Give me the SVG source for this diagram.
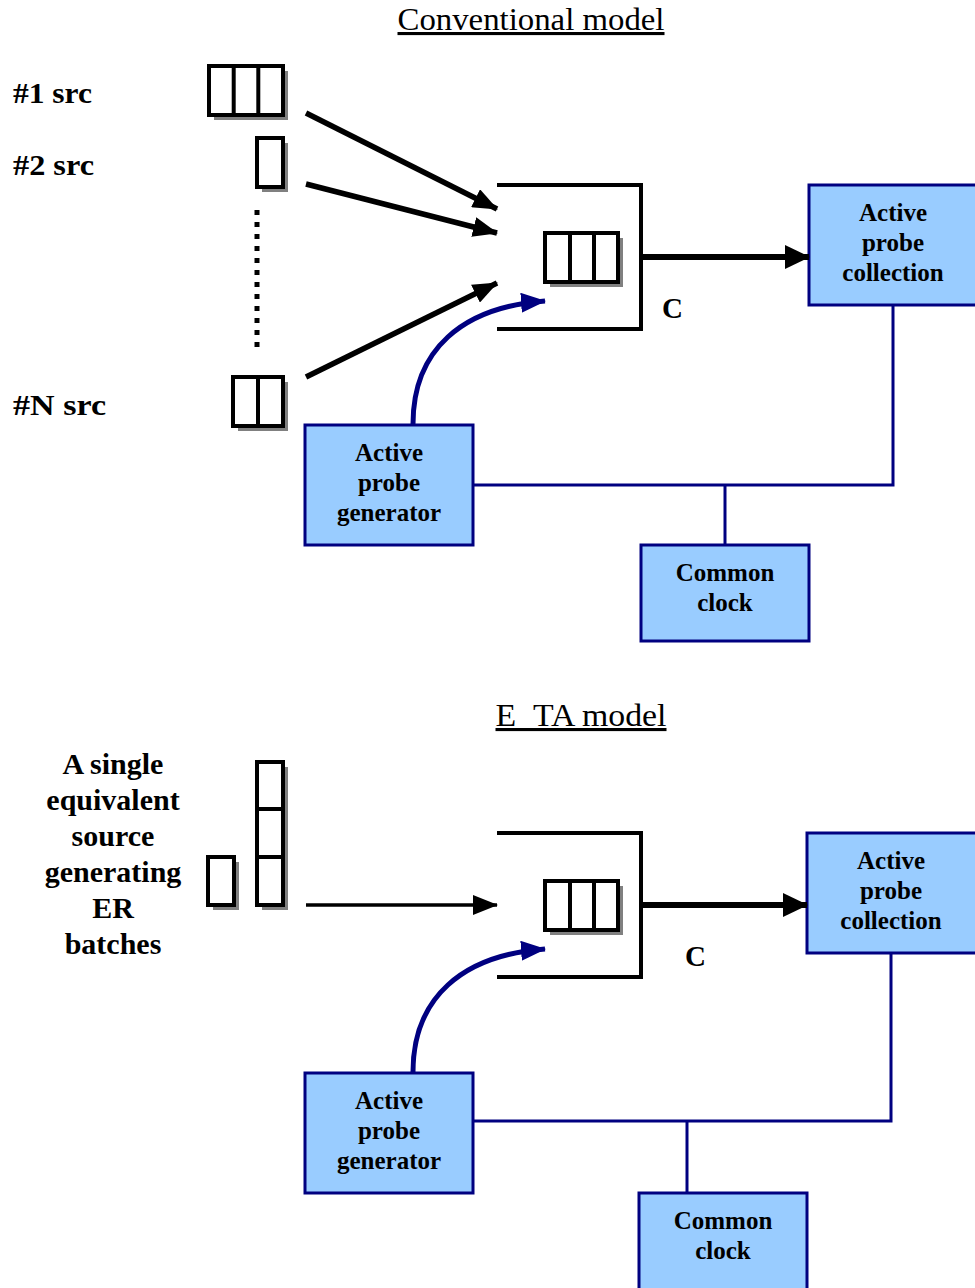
<svg xmlns="http://www.w3.org/2000/svg" width="975" height="1288" viewBox="0 0 975 1288">
  <style>
    .title { font-family: "Liberation Serif", "Times New Roman", serif; font-size: 31px; text-decoration: underline; fill: #000; }
    .lbl { font-family: "Liberation Serif", "Times New Roman", serif; font-weight: bold; font-size: 29px; fill: #000; }
    .box text, .src text { font-family: "Liberation Serif", "Times New Roman", serif; font-weight: bold; font-size: 25px; fill: #000; text-anchor: middle; }
    .src text { font-size: 30px; }
    .box rect { fill: #99ccff; stroke: #000080; stroke-width: 3; }
    .cell { fill: #fff; stroke: #000; stroke-width: 4; }
    .shadow { fill: #808080; }
    .div { stroke: #000; stroke-width: 4; }
    .server { fill: none; stroke: #000; stroke-width: 4; }
    .arrow { stroke: #000; stroke-width: 5.5; fill: none; marker-end: url(#blk); }
    .thick { stroke: #000; stroke-width: 6; fill: none; marker-end: url(#blkL); }
    .thin { stroke: #000; stroke-width: 3.5; fill: none; marker-end: url(#blk); }
    .wire { stroke: #000080; stroke-width: 3; fill: none; }
    .curve { stroke: #000080; stroke-width: 5; fill: none; marker-end: url(#blu); }
    .dots { stroke: #000; stroke-width: 5; stroke-dasharray: 5 7; }
  </style>
  <defs>
    <marker id="blk" markerUnits="userSpaceOnUse" markerWidth="26" markerHeight="20" refX="24" refY="10" orient="auto">
      <path d="M0,0 L25,10 L0,20 Z" fill="#000"/>
    </marker>
    <marker id="blkL" markerUnits="userSpaceOnUse" markerWidth="26" markerHeight="24" refX="24" refY="12" orient="auto">
      <path d="M0,0 L25,12 L0,24 Z" fill="#000"/>
    </marker>
    <marker id="blu" markerUnits="userSpaceOnUse" markerWidth="26" markerHeight="20" refX="24" refY="10" orient="auto">
      <path d="M0,0 L25,10 L0,20 Z" fill="#000080"/>
    </marker>
  </defs>

  <!-- ===== Conventional model ===== -->
  <text class="title" x="531" y="30" text-anchor="middle" textLength="267" lengthAdjust="spacingAndGlyphs">Conventional model</text>

  <text class="lbl" x="13" y="103" textLength="79" lengthAdjust="spacingAndGlyphs">#1 src</text>
  <text class="lbl" x="13" y="175" textLength="81" lengthAdjust="spacingAndGlyphs">#2 src</text>
  <text class="lbl" x="13" y="415" textLength="93" lengthAdjust="spacingAndGlyphs">#N src</text>

  <!-- source queues -->
  <g id="src1-queue">
    <rect class="shadow" x="214" y="71" width="74" height="49"/>
    <rect class="cell" x="209" y="66" width="74" height="49"/>
    <line class="div" x1="233.7" y1="66" x2="233.7" y2="115"/>
    <line class="div" x1="258.3" y1="66" x2="258.3" y2="115"/>
  </g>
  <g id="src2-queue">
    <rect class="shadow" x="262" y="143" width="26" height="49"/>
    <rect class="cell" x="257" y="138" width="26" height="49"/>
  </g>
  <line class="dots" x1="257" y1="210" x2="257" y2="348"/>
  <g id="srcN-queue">
    <rect class="shadow" x="238" y="382" width="50" height="49"/>
    <rect class="cell" x="233" y="377" width="50" height="49"/>
    <line class="div" x1="258" y1="377" x2="258" y2="426"/>
  </g>

  <!-- server -->
  <g id="server-top">
    <path class="server" d="M497,185 H641 V329 H497"/>
    <rect class="shadow" x="550" y="238" width="73" height="49"/>
    <rect class="cell" x="545" y="233" width="73" height="49"/>
    <line class="div" x1="570" y1="233" x2="570" y2="282"/>
    <line class="div" x1="594" y1="233" x2="594" y2="282"/>
  </g>
  <text class="lbl" x="662" y="318">C</text>

  <g id="collection-top" class="box">
    <rect x="809" y="185" width="180" height="120"/>
    <text x="893" y="221">Active</text>
    <text x="893" y="251">probe</text>
    <text x="893" y="281">collection</text>
  </g>
  <g id="generator-top" class="box">
    <rect x="305" y="425" width="168" height="120"/>
    <text x="389" y="461">Active</text>
    <text x="389" y="491">probe</text>
    <text x="389" y="521">generator</text>
  </g>
  <g id="clock-top" class="box">
    <rect x="641" y="545" width="168" height="96"/>
    <text x="725" y="581">Common</text>
    <text x="725" y="611">clock</text>
  </g>

  <g id="connectors-top">
    <line class="arrow" x1="306" y1="113" x2="497" y2="209"/>
    <line class="arrow" x1="306" y1="184" x2="497" y2="233"/>
    <line class="arrow" x1="306" y1="377" x2="497" y2="283"/>
    <line class="thick" x1="643" y1="257" x2="809" y2="257"/>
    <path class="curve" d="M413,424 C413,350 462,307 545,301"/>
    <path class="wire" d="M893,305 V485 H473"/>
    <line class="wire" x1="725" y1="485" x2="725" y2="545"/>
  </g>

  <!-- ===== E_TA model ===== -->
  <text class="title" x="581" y="726" text-anchor="middle" textLength="171" lengthAdjust="spacingAndGlyphs">E_TA model</text>

  <g class="src">
    <text x="113" y="774">A single</text>
    <text x="113" y="810">equivalent</text>
    <text x="113" y="846">source</text>
    <text x="113" y="882">generating</text>
    <text x="113" y="918">ER</text>
    <text x="113" y="954">batches</text>
  </g>

  <g id="batch-queues">
    <rect class="shadow" x="213" y="862" width="26" height="48"/>
    <rect class="cell" x="208" y="857" width="26" height="48"/>
    <rect class="shadow" x="262" y="767" width="26" height="143"/>
    <rect class="cell" x="257" y="762" width="26" height="143"/>
    <line class="div" x1="257" y1="809" x2="283" y2="809"/>
    <line class="div" x1="257" y1="857" x2="283" y2="857"/>
  </g>

  <g id="server-bottom">
    <path class="server" d="M497,833 H641 V977 H497"/>
    <rect class="shadow" x="550" y="886" width="73" height="49"/>
    <rect class="cell" x="545" y="881" width="73" height="49"/>
    <line class="div" x1="570" y1="881" x2="570" y2="930"/>
    <line class="div" x1="594" y1="881" x2="594" y2="930"/>
  </g>
  <text class="lbl" x="685" y="966">C</text>

  <g id="collection-bottom" class="box">
    <rect x="807" y="833" width="180" height="120"/>
    <text x="891" y="869">Active</text>
    <text x="891" y="899">probe</text>
    <text x="891" y="929">collection</text>
  </g>
  <g id="generator-bottom" class="box">
    <rect x="305" y="1073" width="168" height="120"/>
    <text x="389" y="1109">Active</text>
    <text x="389" y="1139">probe</text>
    <text x="389" y="1169">generator</text>
  </g>
  <g id="clock-bottom" class="box">
    <rect x="639" y="1193" width="168" height="100"/>
    <text x="723" y="1229">Common</text>
    <text x="723" y="1259">clock</text>
  </g>

  <g id="connectors-bottom">
    <line class="thin" x1="306" y1="905" x2="497" y2="905"/>
    <line class="thick" x1="643" y1="905" x2="807" y2="905"/>
    <path class="curve" d="M413,1072 C413,998 462,955 545,949"/>
    <path class="wire" d="M891,953 V1121 H473"/>
    <line class="wire" x1="687" y1="1121" x2="687" y2="1193"/>
  </g>
</svg>
